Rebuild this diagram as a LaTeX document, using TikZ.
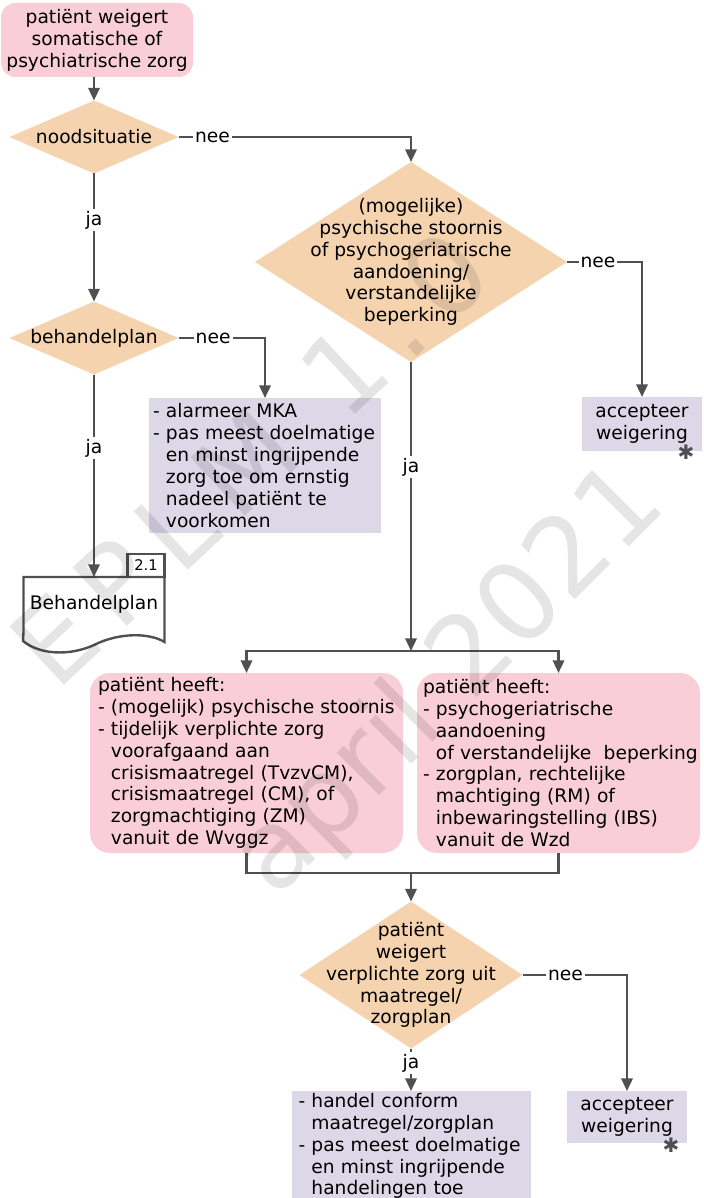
\documentclass[tikz,border=0pt]{standalone}
\usepackage{fontspec}
\setmainfont{DejaVu Sans}
\newfontfamily\wmfont[LetterSpace=16]{DejaVu Sans}
\usepackage{xcolor}
\usetikzlibrary{arrows.meta,shapes.geometric}
\definecolor{cRoze}{RGB}{249,206,216}
\definecolor{cOranje}{RGB}{245,211,175}
\definecolor{cLila}{RGB}{220,216,232}
\definecolor{cGrijs}{RGB}{80,80,80}
\newcommand{\inspr}{\hphantom{-\ }}
\hyphenpenalty=10000

\begin{document}
\begin{tikzpicture}[x=0.75pt, y=-0.75pt, line width=1.8pt, cGrijs, >={Triangle[width=8.5pt,length=9.5pt]}]
\useasboundingbox (0,0) rectangle (703,1198);
\tikzstyle{every node} = [text=black, outer sep=0pt, inner sep=0pt, font=\fontsize{14}{16.4}\selectfont]
\tikzstyle{ruit} = [diamond, fill=cOranje]
\tikzstyle{kader} = [rectangle, fill=cRoze]
\tikzstyle{blok} = [rectangle, fill=cLila]
\tikzstyle{lbl} = [fill=white, inner sep=1.5pt]
\tikzstyle{ster} = [text=cGrijs, font=\fontsize{15}{15}\selectfont]
\tikzstyle{wm} = [text=black, text opacity=0.1, rotate=45, anchor=base, font=\fontsize{82}{82}\selectfont]
\node[kader, rounded corners=11pt, align=center, minimum width=144pt, minimum height=55.5pt] (start) at (97,40) {patiënt weigert\\somatische of\\psychiatrische zorg};
\node[ruit, minimum width=126.75pt, minimum height=54.75pt] (nood) at (94,137) {};
\node (noodtxt) at (nood) {noodsituatie};
\node[ruit, minimum width=126.75pt, minimum height=54.75pt] (beh) at (94,338) {};
\node (behtxt) at (beh) {behandelplan};
\node[ruit, minimum width=234pt, minimum height=150pt] (psy) at (411,262) {};
\node[align=center] (psytxt) at (psy) {(mogelijke)\\psychische stoornis\\of psychogeriatrische\\aandoening/\\verstandelijke\\beperking};
\node[blok, align=left, text width=168pt, inner xsep=3pt, minimum height=101.25pt] (mka) at (265,465.5) {- alarmeer MKA\\- pas meest doelmatige\\\inspr en minst ingrijpende\\\inspr zorg toe om ernstig\\\inspr nadeel patiënt te\\\inspr voorkomen};
\node[blok, align=center, minimum width=90pt, minimum height=40.5pt] (acc1) at (642,424) {accepteer\\weigering};
\node[ster] (ster1) at (686,452) {✱};
\node[minimum width=105.75pt, minimum height=41.25pt] (bplan) at (94,604.5) {Behandelplan};
\draw (bplan.south west) |- (bplan.north east) -- (bplan.south east) -- ++(0,10) .. controls (150,633) and (120,632) .. (94,645) .. controls (70,656) and (40,655) .. (23,641) -- cycle;
\node[draw, anchor=south east, minimum width=27.75pt, minimum height=17.25pt, font=\fontsize{11}{13}\selectfont] (tab) at (bplan.north east) {2.1};
\node[kader, rounded corners=15pt, align=left, text width=222.75pt, inner xsep=6pt, minimum height=135pt] (lbox) at (246.5,763) {patiënt heeft:\\- (mogelijk) psychische stoornis\\- tijdelijk verplichte zorg\\\inspr voorafgaand aan\\\inspr crisismaatregel (TvzvCM),\\\inspr crisismaatregel (CM), of\\\inspr zorgmachtiging (ZM)\\\inspr vanuit de Wvggz};
\node[kader, rounded corners=15pt, align=left, text width=203.25pt, inner xsep=4.5pt, minimum height=135pt] (rbox) at (558.5,763) {patiënt heeft:\\- psychogeriatrische\\\inspr aandoening\\\inspr \mbox{of verstandelijke~~beperking}\\- zorgplan, rechtelijke\\\inspr machtiging (RM) of\\\inspr inbewaringstelling (IBS)\\\inspr vanuit de Wzd};
\coordinate (split) at (411,651);
\coordinate (merge) at (411,873);
\node[ruit, minimum width=167.25pt, minimum height=110.25pt] (ver) at (411,975) {};
\node[align=center] (vertxt) at (ver) {patiënt\\weigert\\verplichte zorg uit\\maatregel/\\zorgplan};
\node[blok, align=center, minimum width=90pt, minimum height=39pt] (acc2) at (627,1117) {accepteer\\weigering};
\node[ster] (ster2) at (671,1145) {✱};
\node[blok, align=left, text width=168.75pt, inner xsep=5.25pt, minimum height=82.5pt] (act) at (411,1146) {- handel conform\\\inspr maatregel/zorgplan\\- pas meest doelmatige\\\inspr en minst ingrijpende\\\inspr handelingen toe};
\draw[->] (start.south -| nood.north) -- (nood.north);
\draw[->] (nood.east) -| node[lbl, pos=0.073] {nee} (psy.north);
\draw[->] (nood.south) -- node[lbl, pos=0.363] {ja} (beh.north);
\draw[->] (beh.east) -| node[lbl, pos=0.2] {nee} (mka.north);
\draw[->] (beh.south) -- node[lbl, pos=0.363] {ja} (bplan.north);
\draw[->] (psy.east) -| node[lbl, pos=0.207] {nee} (acc1.north);
\draw[->] (psy.south) -- node[lbl, pos=0.363] {ja} (split);
\draw[->] (split) -| (lbox.north);
\draw[->] (split) -| (rbox.north);
\draw (lbox.south) |- (merge) -| (rbox.south);
\draw[->] (merge) -- (ver.north);
\draw[->] (ver.east) -| node[lbl, pos=0.206] {nee} (acc2.north);
\draw[->] (ver.south) -- node[lbl, pos=0.34] {ja} (act.north);
\node[wm, rotate=-2, font=\wmfont\fontsize{82}{82}\selectfont] (wm1) at (277,487) {EPLM 1.0};
\node[wm] (wm2) at (472,703) {april 2021};
\end{tikzpicture}
\end{document}
